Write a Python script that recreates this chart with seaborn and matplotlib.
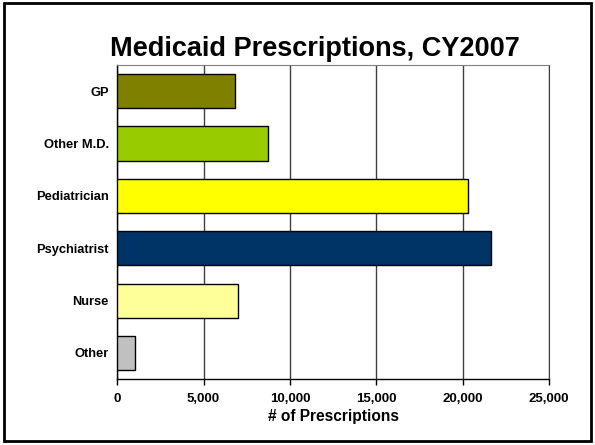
import numpy as np
import pandas as pd
import matplotlib
matplotlib.use('Agg')
import matplotlib.pyplot as plt
import seaborn as sns
from matplotlib.patches import Rectangle

categories = ['GP', 'Other M.D.', 'Pediatrician', 'Psychiatrist', 'Nurse', 'Other']
prescriptions = [6800, 8700, 20300, 21650, 7000, 1050]
colors = ['#808000', '#99CC00', '#FFFF00', '#003366', '#FFFF99', '#C0C0C0']
xticks = [0, 5000, 10000, 15000, 20000, 25000]

sns.set_style('white')
plt.rcParams['font.family'] = ['Liberation Sans', 'DejaVu Sans']
plt.rcParams['text.color'] = 'black'
plt.rcParams['axes.labelcolor'] = 'black'
plt.rcParams['xtick.color'] = 'black'
plt.rcParams['ytick.color'] = 'black'

df = pd.DataFrame({'who': categories, 'n': prescriptions})

fig = plt.figure(figsize=(5.95, 4.45), dpi=100)
ax = fig.add_axes([0.197, 0.148, 0.726, 0.706])

sns.barplot(data=df, x='n', y='who', hue='who', palette=colors, orient='h',
            width=0.65, saturation=1, edgecolor='black', linewidth=1,
            legend=False, ax=ax, zorder=3)

ax.set_xlim(0, 25000)
ax.set_xticks(xticks)
ax.set_xticklabels([f'{v:,}' for v in xticks], fontweight='bold', fontsize=9.5)
ax.set_yticklabels(categories, fontweight='bold', fontsize=9.3)
ax.xaxis.grid(True, color='#404040', linewidth=1, zorder=0)
ax.yaxis.grid(False)
ax.tick_params(axis='x', direction='out', length=4, width=1, pad=6, bottom=True)
ax.tick_params(axis='y', length=0, pad=6)

for side in ['left', 'bottom']:
    ax.spines[side].set_color('black')
    ax.spines[side].set_linewidth(1)
ax.spines['top'].set_color('#808080')
ax.spines['right'].set_color('#404040')

ax.set_xlabel('# of Prescriptions', fontweight='bold', fontsize=11.2, labelpad=3)
ax.set_ylabel('')

fig.text(0.53, 0.889, 'Medicaid Prescriptions, CY2007', ha='center', va='center',
         fontsize=19.5, fontweight='bold')

fig.patches.append(Rectangle((0.006, 0.008), 0.988, 0.985, transform=fig.transFigure,
                             fill=False, edgecolor='black', linewidth=2))

fig.savefig('out.png', dpi=100)
